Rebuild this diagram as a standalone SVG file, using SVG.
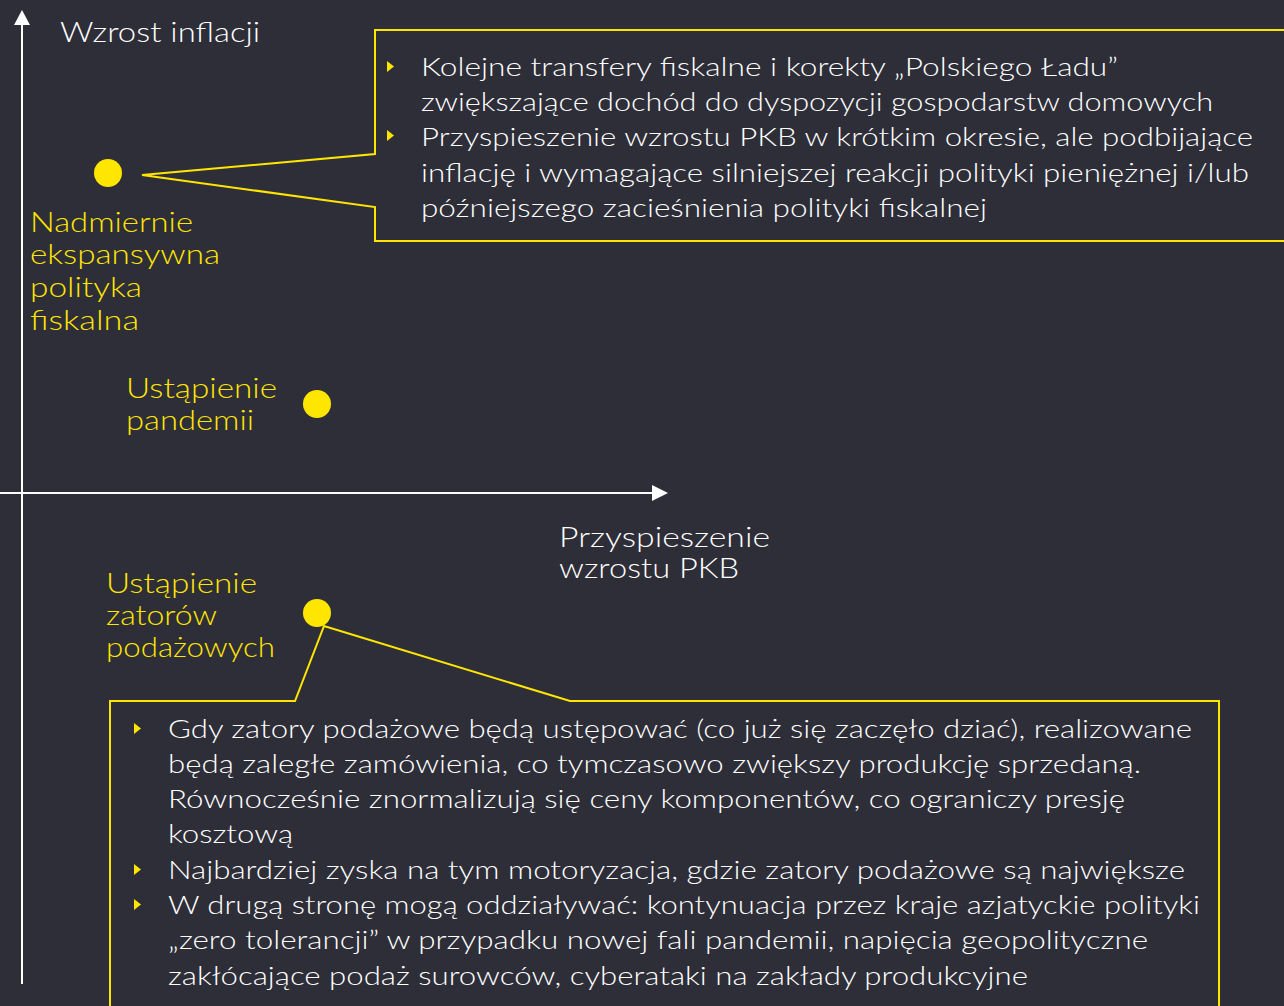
<svg xmlns="http://www.w3.org/2000/svg" width="1284" height="1006" viewBox="0 0 1284 1006">
  <style>
    .bg { fill: #2E2E38; }
    .axis { stroke: #FFFFFF; stroke-width: 2; fill: none; }
    .arrow { fill: #FFFFFF; }
    .callout { fill: #2E2E38; stroke: #FFE600; stroke-width: 2; stroke-linejoin: miter; }
    .dot { fill: #FFE600; }
    .bullet { fill: #FFE600; }
    .lbl { font-family: "Lato", "Liberation Sans", Arial, sans-serif; font-weight: 300; font-size: 28px; }
    .white { fill: #FFFFFF; }
    .yellow { fill: #FFE600; }
    .body { font-family: "Lato", "Liberation Sans", Arial, sans-serif; font-weight: 300; font-size: 26px; fill: #FFFFFF; }
  </style>
  <rect class="bg" x="0" y="0" width="1284" height="1006"/>

  <g id="connectors">
    <line class="axis" x1="22" y1="984" x2="22" y2="22"/>
    <polygon class="arrow" points="14,25 22,10 30,25"/>
    <line class="axis" x1="0" y1="493" x2="654" y2="493"/>
    <polygon class="arrow" points="652,485 668,493 652,501"/>
  </g>

  <g id="axis-y-label">
    <text class="lbl white" x="60" y="42" textLength="200" lengthAdjust="spacingAndGlyphs">Wzrost inflacji</text>
  </g>
  <g id="axis-x-label">
    <text class="lbl white" x="559" y="547" textLength="211" lengthAdjust="spacingAndGlyphs">Przyspieszenie</text>
    <text class="lbl white" x="559" y="578" textLength="180" lengthAdjust="spacingAndGlyphs">wzrostu PKB</text>
  </g>

  <g id="callout-top">
    <path class="callout" d="M1290,30 H375 V154 L142,175 L375,207 V241 H1290"/>
    <polygon class="bullet" points="387,61 394,66.5 387,72"/>
    <polygon class="bullet" points="387,130 394,135.5 387,141"/>
    <text class="body" x="421" y="76" textLength="697" lengthAdjust="spacingAndGlyphs">Kolejne transfery fiskalne i korekty „Polskiego Ładu”</text>
    <text class="body" x="421" y="111" textLength="792" lengthAdjust="spacingAndGlyphs">zwiększające dochód do dyspozycji gospodarstw domowych</text>
    <text class="body" x="421" y="146" textLength="832" lengthAdjust="spacingAndGlyphs">Przyspieszenie wzrostu PKB w krótkim okresie, ale podbijające</text>
    <text class="body" x="421" y="182" textLength="828" lengthAdjust="spacingAndGlyphs">inflację i wymagające silniejszej reakcji polityki pieniężnej i/lub</text>
    <text class="body" x="421" y="217" textLength="566" lengthAdjust="spacingAndGlyphs">późniejszego zacieśnienia polityki fiskalnej</text>
  </g>

  <g id="node-fiscal">
    <circle class="dot" cx="108" cy="173" r="14"/>
    <text class="lbl yellow" x="30" y="232" textLength="163" lengthAdjust="spacingAndGlyphs">Nadmiernie</text>
    <text class="lbl yellow" x="30" y="264" textLength="190" lengthAdjust="spacingAndGlyphs">ekspansywna</text>
    <text class="lbl yellow" x="30" y="297" textLength="112" lengthAdjust="spacingAndGlyphs">polityka</text>
    <text class="lbl yellow" x="30" y="330" textLength="109" lengthAdjust="spacingAndGlyphs">fiskalna</text>
  </g>

  <g id="node-pandemic">
    <circle class="dot" cx="317" cy="404" r="14"/>
    <text class="lbl yellow" x="126" y="398" textLength="151" lengthAdjust="spacingAndGlyphs">Ustąpienie</text>
    <text class="lbl yellow" x="126" y="430" textLength="128" lengthAdjust="spacingAndGlyphs">pandemii</text>
  </g>

  <g id="node-supply">
    <circle class="dot" cx="317" cy="613" r="14"/>
    <text class="lbl yellow" x="106" y="593" textLength="151" lengthAdjust="spacingAndGlyphs">Ustąpienie</text>
    <text class="lbl yellow" x="106" y="625" textLength="111" lengthAdjust="spacingAndGlyphs">zatorów</text>
    <text class="lbl yellow" x="106" y="657" textLength="169" lengthAdjust="spacingAndGlyphs">podażowych</text>
  </g>

  <g id="callout-bottom">
    <path class="callout" d="M110,1012 V701 H295 L324,626 L570,701 H1219 V1012"/>
    <polygon class="bullet" points="134,723 141,728.5 134,734"/>
    <polygon class="bullet" points="134,864 141,869.5 134,875"/>
    <polygon class="bullet" points="134,899 141,904.5 134,910"/>
    <text class="body" x="168" y="738" textLength="1024" lengthAdjust="spacingAndGlyphs">Gdy zatory podażowe będą ustępować (co już się zaczęło dziać), realizowane</text>
    <text class="body" x="168" y="773" textLength="973" lengthAdjust="spacingAndGlyphs">będą zaległe zamówienia, co tymczasowo zwiększy produkcję sprzedaną.</text>
    <text class="body" x="168" y="808" textLength="957" lengthAdjust="spacingAndGlyphs">Równocześnie znormalizują się ceny komponentów, co ograniczy presję</text>
    <text class="body" x="168" y="843" textLength="125" lengthAdjust="spacingAndGlyphs">kosztową</text>
    <text class="body" x="168" y="879" textLength="1017" lengthAdjust="spacingAndGlyphs">Najbardziej zyska na tym motoryzacja, gdzie zatory podażowe są największe</text>
    <text class="body" x="168" y="914" textLength="1032" lengthAdjust="spacingAndGlyphs">W drugą stronę mogą oddziaływać: kontynuacja przez kraje azjatyckie polityki</text>
    <text class="body" x="168" y="949" textLength="980" lengthAdjust="spacingAndGlyphs">„zero tolerancji” w przypadku nowej fali pandemii, napięcia geopolityczne</text>
    <text class="body" x="168" y="985" textLength="860" lengthAdjust="spacingAndGlyphs">zakłócające podaż surowców, cyberataki na zakłady produkcyjne</text>
  </g>
</svg>
